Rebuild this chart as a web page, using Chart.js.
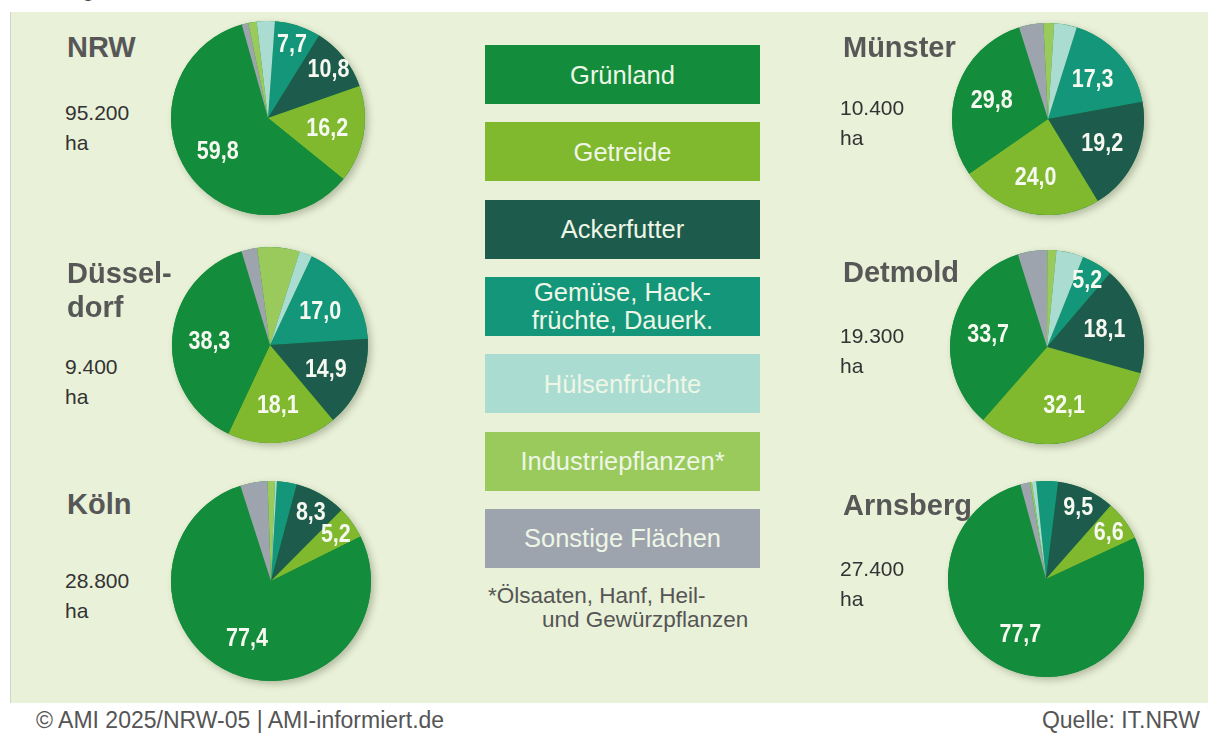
<!DOCTYPE html>
<html>
<head>
<meta charset="utf-8">
<script src="https://cdn.jsdelivr.net/npm/chart.js@4.4.1/dist/chart.umd.min.js"></script>
<style>
  body { margin: 0; width: 1208px; height: 744px; background: #fff; position: relative; overflow: hidden;
         font-family: "Liberation Sans", Arial, sans-serif; }
  #top { position: absolute; left: 0; top: 0; width: 1208px; height: 12px; overflow: hidden; }
  #top span { position: absolute; left: 22px; top: -25px; font-size: 23px; color: #444; white-space: nowrap; }
  #panel { position: absolute; left: 10px; top: 12px; width: 1198px; height: 691px; background: #e9f1d8;
           border-left: 1px solid #cfd3cc; }
  canvas.pie { position: absolute; }
  .name { position: absolute; font-weight: bold; font-size: 29px; color: #575757; line-height: 34px; z-index: 5; white-space: pre; }
  .area { position: absolute; font-size: 21px; color: #333; line-height: 30px; z-index: 5; white-space: pre; }
  .box { position: absolute; left: 485px; width: 275px; height: 59px; color: #eef6e6; font-size: 25.5px;
         display: flex; align-items: center; justify-content: center; text-align: center; line-height: 28px; white-space: pre; }
  #note { position: absolute; left: 488px; top: 584px; font-size: 22.5px; color: #555; line-height: 24px; }
  #note div + div { padding-left: 54px; }
  .foot { position: absolute; top: 707px; font-size: 23px; color: #555; }
</style>
</head>
<body>
<div id="top"><span>Ökologisch bewirtschaftete Flächen, 2023, Anteile in %</span></div>
<div id="panel"></div>
<div id="legend"></div>
<div id="note"><div>*Ölsaaten, Hanf, Heil-</div><div>und Gewürzpflanzen</div></div>
<div class="foot" style="left:36px">© AMI 2025/NRW-05 | AMI-informiert.de</div>
<div class="foot" style="right:8px">Quelle: IT.NRW</div>

<script>
// Categories in legend order
const categories = ["Grünland", "Getreide", "Ackerfutter", "Gemüse, Hack-\nfrüchte, Dauerk.",
                    "Hülsenfrüchte", "Industriepflanzen*", "Sonstige Flächen"];
const colors = ["#138c3b", "#80b82e", "#1d5b4c", "#14967a", "#aadcd2", "#9aca5c", "#9ea4ae"];

// Regions
const regions = ["NRW", "Düssel-\ndorf", "Köln", "Münster", "Detmold", "Arnsberg"];
const areas = ["95.200\nha", "9.400\nha", "28.800\nha", "10.400\nha", "19.300\nha", "27.400\nha"];

// Shares in % (legend order)
const nrw         = [59.8, 16.2, 10.8, 7.7, 3.0, 1.4, 1.1];
const duesseldorf = [38.3, 18.1, 14.9, 17.0, 2.1, 7.0, 2.6];
const koeln       = [77.4, 5.2, 8.3, 3.2, 0.3, 1.2, 4.4];
const muenster    = [29.8, 24.0, 19.2, 17.3, 3.8, 1.8, 4.1];
const detmold     = [33.7, 32.1, 18.1, 5.2, 4.5, 1.5, 4.9];
const arnsberg    = [77.7, 6.6, 9.5, 3.6, 0.7, 0.3, 1.6];
const shares = [nrw, duesseldorf, koeln, muenster, detmold, arnsberg];

// clockwise drawing order of the slices
const drawOrder = [3, 2, 1, 0, 6, 5, 4];

// layout of each pie
const pies = [
  { x: 268, y: 118, r: 97, rot: 4.1 },
  { x: 270, y: 345, r: 98, rot: 25.2 },
  { x: 271, y: 581, r: 100, rot: 3.4 },
  { x: 1048, y: 119, r: 96, rot: 17.4 },
  { x: 1047, y: 347, r: 97, rot: 21.8 },
  { x: 1046, y: 579, r: 98, rot: -5.8 }
];
const namePos = [[67, 30], [67, 256], [67, 487], [843, 30], [843, 255], [843, 488]];
const areaPos = [[65, 98], [65, 352], [65, 566], [840, 93], [840, 321], [840, 554]];

// legend boxes
const legend = document.getElementById("legend");
categories.forEach((c, i) => {
  const d = document.createElement("div");
  d.className = "box";
  d.style.top = (45 + i * 77.3) + "px";
  d.style.background = colors[i];
  d.textContent = c;
  legend.appendChild(d);
});

// shadow behind each pie
const shadowPlugin = {
  id: "shadow",
  beforeDatasetsDraw(chart) {
    const arc = chart.getDatasetMeta(0).data[0];
    const ctx = chart.ctx;
    ctx.save();
    ctx.shadowColor = "rgba(50,60,30,0.3)";
    ctx.shadowBlur = 7;
    ctx.shadowOffsetX = 3;
    ctx.shadowOffsetY = 3;
    ctx.beginPath();
    ctx.arc(arc.x, arc.y, arc.outerRadius, 0, Math.PI * 2);
    ctx.fillStyle = colors[0];
    ctx.fill();
    ctx.restore();
  }
};

// value labels on the main slices
const labelPlugin = {
  id: "valueLabels",
  afterDatasetsDraw(chart) {
    const ctx = chart.ctx;
    const ds = chart.data.datasets[0];
    chart.getDatasetMeta(0).data.forEach((arc, i) => {
      const v = ds.data[i];
      if (!ds.showLabel[i] || v < 5) return;
      const p = arc.getProps(["x", "y", "startAngle", "endAngle", "outerRadius"], true);
      const mid = (p.startAngle + p.endAngle) / 2;
      const f = v < 12 ? 0.8 : 0.62;
      const lx = p.x + Math.cos(mid) * p.outerRadius * f;
      const ly = p.y + Math.sin(mid) * p.outerRadius * f;
      ctx.save();
      ctx.translate(lx, ly);
      ctx.scale(0.86, 1);
      ctx.font = "bold 25px 'Liberation Sans', Arial, sans-serif";
      ctx.fillStyle = "#f6f9f0";
      ctx.textAlign = "center";
      ctx.textBaseline = "middle";
      ctx.fillText(v.toFixed(1).replace(".", ","), 0, 1);
      ctx.restore();
    });
  }
};

shares.forEach((vals, k) => {
  const pie = pies[k];
  const size = 240;
  const cv = document.createElement("canvas");
  cv.className = "pie";
  cv.width = size;
  cv.height = size;
  cv.style.left = (pie.x - size / 2) + "px";
  cv.style.top = (pie.y - size / 2) + "px";
  document.body.appendChild(cv);

  new Chart(cv.getContext("2d"), {
    type: "pie",
    data: {
      labels: drawOrder.map(i => categories[i]),
      datasets: [{
        data: drawOrder.map(i => vals[i]),
        backgroundColor: drawOrder.map(i => colors[i]),
        borderWidth: 0,
        showLabel: drawOrder.map(i => i < 4)
      }]
    },
    options: {
      responsive: false,
      animation: false,
      radius: pie.r,
      rotation: pie.rot,
      layout: { padding: 0 },
      plugins: { legend: { display: false }, tooltip: { enabled: false } }
    },
    plugins: [shadowPlugin, labelPlugin]
  });

  const n = document.createElement("div");
  n.className = "name";
  n.style.left = namePos[k][0] + "px";
  n.style.top = namePos[k][1] + "px";
  n.textContent = regions[k];
  document.body.appendChild(n);

  const a = document.createElement("div");
  a.className = "area";
  a.style.left = areaPos[k][0] + "px";
  a.style.top = areaPos[k][1] + "px";
  a.textContent = areas[k];
  document.body.appendChild(a);
});
</script>
</body>
</html>
